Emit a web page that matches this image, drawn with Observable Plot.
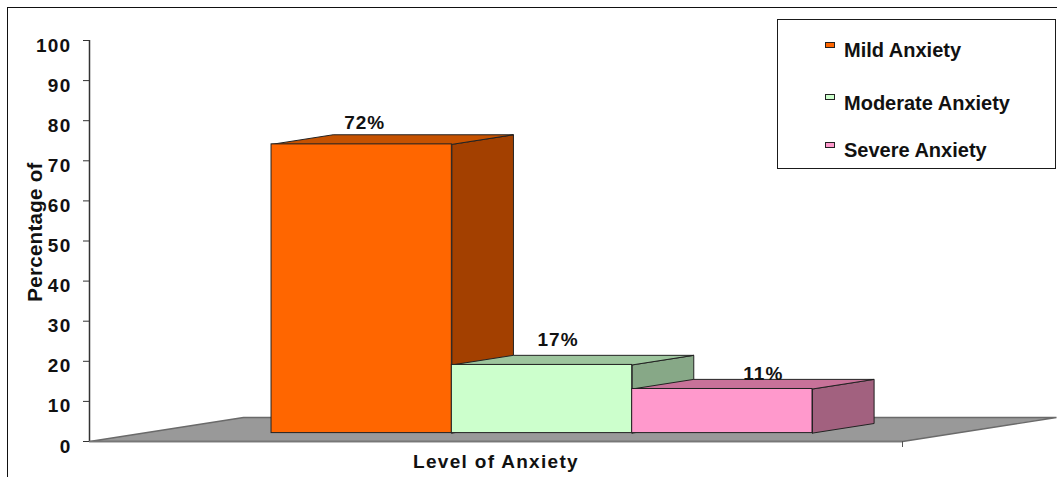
<!DOCTYPE html>
<html>
<head>
<meta charset="utf-8">
<script src="https://cdn.jsdelivr.net/npm/d3@7"></script>
<script src="https://cdn.jsdelivr.net/npm/@observablehq/plot@0.6"></script>
<style>
  body { margin: 0; background: #fff; }
  #wrap { position: relative; width: 1057px; height: 477px; overflow: hidden;
          font-family: "Liberation Sans", Arial, sans-serif; background: #fff; }
  #chart { position: absolute; left: 0; top: 0; }
  #chart svg { display: block; }
  #frame { position: absolute; left: 7px; top: 7px; right: -2px; bottom: -2px;
           border-top: 1.5px solid #111; border-left: 1.5px solid #111; pointer-events: none; }
  #legend { position: absolute; left: 777px; top: 18.5px; width: 277px; height: 148.5px;
            border: 1.5px solid #1a1a1a; background: #fff; }
  .entry { position: absolute; left: 66px; white-space: nowrap;
           font-size: 20px; font-weight: bold; line-height: 20px; color: #111; }
  .swatch { position: absolute; left: 47px; width: 8px; height: 4px; border: 1px solid #222; }
</style>
</head>
<body>
<div id="wrap">
  <div id="chart"></div>
  <div id="legend"></div>
  <div id="frame"></div>
</div>
<script>
// ---- data ----
const categories = ["Mild Anxiety", "Moderate Anxiety", "Severe Anxiety"];
const percentages = [72, 17, 11];
const yTicks = [0, 10, 20, 30, 40, 50, 60, 70, 80, 90, 100];
const yTitle = "Percentage of";
const xTitle = "Level of Anxiety";

// ---- palette: front, top and side shades of each box ----
const frontColors = ["#ff6600", "#ccffcc", "#ff99cc"];
const topColors   = ["#c65200", "#9dc59d", "#c87299"];
const sideColors  = ["#a34000", "#87a887", "#a2617f"];

// ---- layout ----
const W = 1057, H = 477;
const margin = {top: 40, right: 155, bottom: 36, left: 89};
const xDomain = [0, 1];      // the single category slot along the floor front
const yDomain = [0, 100];
const plotW = W - margin.left - margin.right;
const plotH = H - margin.top - margin.bottom;

// oblique depth of the floor, in pixels, converted to data units
const depthPx = [154, -24];
const DX = depthPx[0] * (xDomain[1] - xDomain[0]) / plotW;
const DY = -depthPx[1] * (yDomain[1] - yDomain[0]) / plotH;
const P = (x, y, d) => ({x: x + d * DX, y: y + d * DY});

const barStart = 0.1576, barWidth = 0.2218;   // in slot units
const dFront = 0.35, dBack = 0.75;            // box depth as floor fractions
const labelNudge = [[3, -21], [16, -25], [41, -15]];

const boxes = categories.map((c, i) => ({
  c, i, v: percentages[i],
  x1: barStart + i * barWidth,
  x2: barStart + (i + 1) * barWidth
}));

// front faces
const fronts = boxes.map(b => ({
  x1: b.x1 + dFront * DX, x2: b.x2 + dFront * DX,
  y1: dFront * DY, y2: b.v + dFront * DY,
  fill: frontColors[b.i]
}));

// polygon helpers for top and side faces
function poly(id, fill, pts) {
  return [...pts, pts[0]].map(p => ({id, fill, x: p.x, y: p.y}));
}
const sides = boxes.flatMap(b => poly("s" + b.i, sideColors[b.i], [
  P(b.x2, 0, dFront), P(b.x2, 0, dBack), P(b.x2, b.v, dBack), P(b.x2, b.v, dFront)
]));
const tops = boxes.flatMap(b => poly("t" + b.i, topColors[b.i], [
  P(b.x1, b.v, dFront), P(b.x2, b.v, dFront), P(b.x2, b.v, dBack), P(b.x1, b.v, dBack)
]));
const floor = poly("floor", "#999999", [
  P(xDomain[0], 0, 0), P(xDomain[1], 0, 0), P(xDomain[1], 0, 1), P(xDomain[0], 0, 1)
]);

const labelMarks = boxes.map(b => Plot.text([b], {
  x: d => (d.x1 + d.x2) / 2 + dFront * DX,
  y: d => d.v + dFront * DY,
  text: d => d.v + "%",
  dx: labelNudge[b.i][0], dy: labelNudge[b.i][1],
  fontSize: 19, fontWeight: "bold", fill: "#111", lineAnchor: "middle"
}));

const chart = Plot.plot({
  width: W, height: H,
  marginTop: margin.top, marginRight: margin.right,
  marginBottom: margin.bottom, marginLeft: margin.left,
  style: {fontFamily: '"Liberation Sans", Arial, sans-serif', background: "#fff"},
  x: {domain: xDomain, axis: null},
  y: {domain: yDomain, axis: null},
  color: {type: "identity"},
  marks: [
    Plot.line(floor, {x: "x", y: "y", z: "id", fill: "fill", stroke: "#6a6a6a", strokeWidth: 1.3, strokeLinejoin: "miter"}),
    Plot.line(sides, {x: "x", y: "y", z: "id", fill: "fill", stroke: "#222", strokeWidth: 1, strokeLinejoin: "miter"}),
    Plot.line(tops, {x: "x", y: "y", z: "id", fill: "fill", stroke: "#222", strokeWidth: 1, strokeLinejoin: "miter"}),
    Plot.rect(fronts, {x1: "x1", x2: "x2", y1: "y1", y2: "y2", fill: "fill", stroke: "#222", strokeWidth: 1}),
    ...labelMarks,
    // axes
    Plot.ruleX([xDomain[0]], {y1: yDomain[0], y2: yDomain[1], stroke: "#333", strokeWidth: 1.5}),
    Plot.ruleY([0], {x1: xDomain[0], x2: xDomain[1], stroke: "#777", strokeWidth: 1.5}),
    Plot.axisY({ticks: yTicks, tickSize: 6, fill: "none", label: null, stroke: "#333"}),
    Plot.axisY({ticks: yTicks, tickSize: 0, tickPadding: 18, dy: 5, label: null,
                fontSize: 19, fontWeight: "bold", fill: "#111"}),
    Plot.axisX({ticks: [xDomain[1]], tickSize: 6, fill: "none", label: null, stroke: "#555"}),
    Plot.text([xTitle], {text: d => d, frameAnchor: "bottom", lineAnchor: "middle", dy: 20,
                         fontSize: 19, fontWeight: "bold", fill: "#111"}),
    Plot.text([yTitle], {text: d => d, frameAnchor: "left", textAnchor: "middle", lineAnchor: "middle",
                         rotate: -90, dx: -54, dy: -9, fontSize: 20.5, fontWeight: "bold", fill: "#111"})
  ]
});
document.getElementById("chart").appendChild(chart);

// wider glyph spacing for the horizontal texts
d3.select(chart).selectAll("text").each(function() {
  const t = this.textContent;
  if (t === yTitle) d3.select(this).style("letter-spacing", "0.3px");
  else if (t.endsWith("%")) d3.select(this).style("letter-spacing", "1px");
  else d3.select(this).style("letter-spacing", "1.3px");
});

// ---- legend ----
const rowTop = [20.5, 73.2, 120.9];
const legend = document.getElementById("legend");
categories.forEach((c, i) => {
  const sw = document.createElement("div");
  sw.className = "swatch";
  sw.style.top = (rowTop[i] + 1.5) + "px";
  sw.style.background = frontColors[i];
  legend.appendChild(sw);
  const e = document.createElement("div");
  e.className = "entry";
  e.style.top = rowTop[i] + "px";
  e.textContent = c;
  legend.appendChild(e);
});
</script>
</body>
</html>
